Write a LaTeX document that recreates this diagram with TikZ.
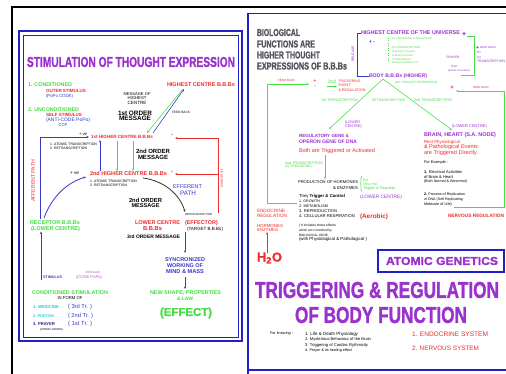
\documentclass[tikz,border=0pt]{standalone}
\usepackage{fontspec}
\setmainfont{Liberation Sans}
\newfontface\heavy[FakeBold=1.6]{Liberation Sans Bold}
\usetikzlibrary{arrows.meta}
\definecolor{pur}{HTML}{9A32CD}
\definecolor{rd}{HTML}{EE2C2C}
\definecolor{gr}{HTML}{44DD44}
\definecolor{bl}{HTML}{3838C8}
\definecolor{dbl}{HTML}{202090}
\definecolor{cy}{HTML}{20D0E0}
\definecolor{mg}{HTML}{C060C0}
\definecolor{fb}{HTML}{2020C8}
\definecolor{dg}{HTML}{58525E}
\newcommand\wf[2]{\resizebox{#1pt}{!}{#2}}
\begin{document}
\begin{tikzpicture}[x=1pt,y=-1pt,
  L/.style={anchor=west,inner sep=0pt,outer sep=0pt},
  R/.style={anchor=east,inner sep=0pt,outer sep=0pt},
  C/.style={anchor=center,inner sep=0pt,outer sep=0pt},
  ar/.style={-{Stealth[length=2.6pt,width=2.2pt]},line width=0.55pt},
  ln/.style={line width=0.55pt}]
\useasboundingbox (0,0) rectangle (506,374);
\fill[white] (0,0) rectangle (506,374);
% frames
\draw[black,line width=1.6pt] (12,374) -- (12,7) -- (506,7);
\draw[fb,line width=1.2pt] (248,13.5) -- (506,13.5);
\draw[fb,line width=1.2pt] (248,370) -- (506,370);
\draw[fb,line width=2.4pt] (248,374) -- (248,13);
\draw[fb,line width=2.2pt] (19,31) rectangle (242,341);
\draw[fb,line width=0.6pt] (23,35) rectangle (238,337);
% ===== left panel =====
\node[C,text=pur] (ttl) at (131,62) {\resizebox{208pt}{10pt}{\heavy STIMULATION OF THOUGHT EXPRESSION}};
\node[L,text=gr] (lc1) at (28,85) {\wf{44}{\bfseries 1. CONDITIONED}};
\node[L,text=rd] (los) at (46,90.5) {\wf{40}{\bfseries OUTER STIMULUS}};
\node[L,text=bl] (lppc) at (46,96) {\wf{27}{(PoPo CODE)}};
\node[L,text=gr] (lc2) at (28,110) {\wf{51}{\bfseries 2. UNCONDITIONED}};
\node[L,text=rd] (lss) at (46,115) {\wf{36}{\bfseries SELF STIMULUS}};
\node[L,text=bl] (lacp) at (46,120) {\wf{44}{(ANTI-CODE PoPo)}};
\node[C,text=bl] (lccp) at (63,125) {\wf{9}{CCP}};
\node[C] (lmo1) at (137,94) {\wf{27}{MESSAGE OF}};
\node[C] (lmo2) at (137,98.5) {\wf{19}{HIGHEST}};
\node[C] (lmo3) at (137,103) {\wf{19}{CENTRE}};
\node[C] (lfo1) at (135,113) {\wf{34}{\bfseries 1st ORDER}};
\node[C] (lfo2) at (135,118.5) {\wf{32}{\bfseries MESSAGE}};
\node[L,text=rd] (lhc) at (167,85) {\wf{68}{\bfseries HIGHEST CENTRE B.B.Bs}};
\node[L] (lfb) at (172,112) {\wf{18}{FEED BACK}};
\node[L,text=rd] (lh1) at (91,137) {\wf{62}{\bfseries 1st HIGHER CENTRE B.B.Bs}};
\node[L] (lve1) at (79,134) {\wf{8}{+ ve}};
\node[L] (lat1) at (50,144) {\wf{47}{1. ATOMIC TRANSCRIPTION}};
\node[L] (lrt1) at (50,148) {\wf{37}{2. RETRANSCRIPTION}};
\node[C] (lso1) at (153,151) {\wf{34}{\bfseries 2nd ORDER}};
\node[C] (lso2) at (153,157.5) {\wf{30}{\bfseries MESSAGE}};
\node[L,text=rd] (lh2) at (90,174) {\wf{77}{\bfseries 2nd HIGHER CENTRE B.B.Bs}};
\node[L] (lve2) at (70,173) {\wf{9}{+ ve}};
\node[L] (lat2) at (90,181) {\wf{47}{1. ATOMIC TRANSCRIPTION}};
\node[L] (lrt2) at (90,185) {\wf{37}{2. RETRANSCRIPTION}};
\node[C,text=bl] (lef1) at (187.5,187) {\wf{29}{EFFERENT}};
\node[C,text=bl] (lef2) at (188,193) {\wf{16}{PATH}};
\node[C] (lto1) at (145.5,200) {\wf{33}{\bfseries 2nd ORDER}};
\node[C] (lto2) at (145.5,206) {\wf{28}{\bfseries MESSAGE}};
\node[L] (lrt3) at (185,215) {\wf{27}{RETRANSCRIPTION}};
\node[C,text=rd] (llc1) at (157.5,223) {\wf{45}{\bfseries LOWER CENTRE}};
\node[C,text=rd] (llc2) at (152.5,229) {\wf{19}{\bfseries B.B.Bs}};
\node[L,text=rd] (leff) at (185,223) {\wf{33}{\bfseries (EFFECTOR)}};
\node[L] (ltgt) at (187,229) {\wf{36}{(TARGET B.B.Bs)}};
\node[C] (l3o) at (153.5,237) {\wf{53}{\bfseries 3rd ORDER MESSAGE}};
\node[C,text=bl] (lsy1) at (185,260) {\wf{40}{\bfseries SYNCRONIZED}};
\node[C,text=bl] (lsy2) at (185,266) {\wf{36}{\bfseries WORKING OF}};
\node[C,text=bl] (lsy3) at (185,272) {\wf{38}{\bfseries MIND \& MASS}};
\node[C,text=gr] (lns1) at (185.5,293) {\wf{71}{\bfseries NEW SHAPE, PROPERTIES}};
\node[C,text=gr] (lns2) at (185,298.5) {\wf{16}{\bfseries \& LAW}};
\node[C,text=gr] (leffect) at (186,313) {\wf{52}{\heavy (EFFECT)}};
\node[C,text=gr] (lre1) at (55,223) {\wf{50}{\bfseries RECEPTOR B.B.Bs}};
\node[C,text=gr] (lre2) at (55.5,229) {\wf{49}{\bfseries (LOWER CENTRE)}};
\node[L,text=bl] (lstim) at (43,277) {\wf{19}{\bfseries STIMULUS}};
\node[C,text=mg] (lmsg1) at (93,272) {\wf{15}{MESSAGE}};
\node[L,text=mg] (lmsg2) at (76,277) {\wf{26}{(CODE PoPo)}};
\node[C,text=gr] (lcs) at (70,293) {\wf{76}{\bfseries CONDITIONED STIMULATION}};
\node[C] (lif) at (70,298.5) {\wf{25}{IN FORM OF}};
\node[L,text=cy] (lm1) at (33,307) {\wf{26}{\bfseries 1. MEDICINE}};
\node[L,text=bl] (lm2) at (68,307) {\wf{24}{( 3rd Tr. )}};
\node[L,text=cy] (lp1) at (33,316) {\wf{21}{\bfseries 2. PHOTON}};
\node[L,text=bl] (lp2) at (68,316) {\wf{25}{( 2nd Tr. )}};
\node[L,text=dbl] (lpr1) at (33,324) {\wf{22}{\bfseries 3. PRAYER}};
\node[L,text=bl] (lpr2) at (68,324) {\wf{24}{( 1st Tr. )}};
\node[L] (lag) at (40,330) {\wf{23}{(ATOMIC GENES)}};
\node[C,rotate=90,text=rd] (laff) at (33,181) {\wf{42}{AFFERENT PATH}};
\node[C,rotate=-90,text=rd] (lfbv) at (222,179) {\wf{18}{FEED BACK}};
\node[C,text=rd] (lpl1) at (172,135.5) {\wf{2.5}{+}};
\node[C,text=rd] (lpl2) at (172,172.5) {\wf{2.5}{+}};
% left connectors
\coordinate (rcpT) at (40,219);
\draw[ar,bl,shorten >=2pt] (rcpT) |- (lh1.west);
\coordinate (stB) at (41,280);
\draw[ar,bl] (stB) -- (stB |- lre2.south);
\coordinate (cbS) at (44,218);
\coordinate (cbE) at (86,177);
\draw[ar,bl,line width=0.8pt] (cbS) .. controls (52,196) and (68,182) .. (cbE);
\coordinate (kbS) at (143,178);
\coordinate (kbE) at (185,212);
\draw[ar,black!80,line width=0.8pt] (kbS) .. controls (165,181) and (180,195) .. (kbE);
\coordinate (hg1) at (182,90); \coordinate (hg2) at (147,133);
\draw[ar,gr] (hg1) -- (hg2);
\coordinate (hb1) at (153,133); \coordinate (hb2) at (184,89);
\draw[ar,bl] (hb1) -- (hb2);
\coordinate (bu1) at (100,171); \coordinate (bu2) at (100,140);
\draw[ar,bl] (bu1) -- (bu2);
\coordinate (gd1) at (117,141); \coordinate (gd2) at (117,171);
\draw[ar,gr] (gd1) -- (gd2);
\coordinate (gd3) at (133,141); \coordinate (gd4) at (133,171);
\draw[ar,gr] (gd3) -- (gd4);
\coordinate (rf1) at (218,213); \coordinate (rf2) at (218,138);
\coordinate (rf3) at (175,138); \coordinate (rf4) at (218,174); \coordinate (rf5) at (175,174);
\draw[ar,rd] (rf1) -- (rf2) -- (rf3);
\draw[ar,rd] (rf4) -- (rf5);
\coordinate (bd1) at (185,232); \coordinate (bd2) at (185,253);
\draw[ar,bl] (bd1) -- (bd2);
\coordinate (bd3) at (185,277); \coordinate (bd4) at (185,289);
\draw[ar,bl] (bd3) -- (bd4);
% ===== right panel =====
\node[L,text=dg] (rb1) at (257,32.5) {\resizebox{43pt}{7pt}{\heavy BIOLOGICAL}};
\node[L,text=dg] (rb2) at (257,44) {\resizebox{58pt}{7pt}{\heavy FUNCTIONS ARE}};
\node[L,text=dg] (rb3) at (257,55) {\resizebox{63pt}{7pt}{\heavy HIGHER THOUGHT}};
\node[L,text=dg] (rb4) at (257,66) {\resizebox{90pt}{7pt}{\heavy EXPRESSIONS OF B.B.Bs}};
\node[L,text=pur] (rhcu) at (361,33) {\wf{99}{\bfseries HIGHEST CENTRE OF THE UNIVERSE}};
\node[L,text=pur] (rbody) at (369,76) {\wf{58}{\bfseries BODY B.B.Bs (HIGHER)}};
\draw[ln,bl] (rhcu.west) -- (357,33) -- (357,76) -- (rbody.west);
\node[C,rotate=90,text=pur] (rrel) at (353,54) {\wf{16}{RELEASE}};
\node[L,text=bl] (rpm1) at (369,42) {\wf{6}{\bfseries + -}};
\draw[gr,dotted,line width=0.5pt] (388,38) -- (388,63);
\node[L,text=gr] (rl1) at (392,39) {\wf{40}{1st TRIGGERING \& REGULATION}};
\node[L,text=gr] (rl2) at (392,48) {\wf{28}{2nd TRANSCRIPTION}};
\node[L,text=gr] (rl3) at (392,52) {\wf{23}{Shaping of Thoughts}};
\node[L,text=gr] (rl4) at (392,55.5) {\wf{21}{of Body Functions}};
\node[L,text=gr] (rl5) at (392,59) {\wf{19}{of Brain Waves}};
\node[L,text=gr] (rl6) at (392,62.5) {\wf{26}{Giving Protection Foil}};
\node[L,text=bl] (rpl2) at (462,34) {\wf{4}{\bfseries +}};
\coordinate (gb1) at (467,36); \coordinate (gb2) at (474,36);
\coordinate (gb3) at (474,75); \coordinate (gb4) at (461,75);
\draw[ln,gr] (gb1) -- (gb2) -- (gb3) -- (gb4);
\node[C,text=pur] (rpray) at (453,57) {\wf{13}{PRAYER}};
\node[C,text=pur] (rtdm) at (454,67) {\wf{6}{TDM}};
\node[C,text=pur] (rbbb) at (459,71) {\wf{22}{(B.B.Bs of the Brain)}};
\node[L,text=bl] (rpl3) at (476,48) {\wf{3}{\bfseries +}};
\node[L,text=pur] (rfb1) at (480,48) {\wf{16}{FEED BACK}};
\node[L,text=pur] (rby) at (477,52.5) {\wf{4}{BY}};
\node[L,text=pur] (r1st) at (477,57) {\wf{4}{1st}};
\node[L,text=pur] (rtr) at (477,61.5) {\wf{28}{TRANSCRIPTION}};
\node[C,text=gr] (r2te) at (416,82) {\wf{42}{2nd THOUGHT EXPRESSION}};
\coordinate (apex) at (383,79);
\coordinate (lgA) at (329,129);
\coordinate (rgA) at (452,130);
\draw[ar,gr] (apex) -- (lgA);
\draw[ar,gr] (apex) -- (rgA);
\node[C,text=gr] (r1t) at (339.5,100) {\wf{37}{1st TRANSCRIPTION}};
\node[C,text=gr] (rrt) at (388.5,100) {\wf{33}{RETRANSCRIPTION}};
\node[C,text=gr] (r2t) at (433,100) {\wf{38}{2nd TRANSCRIPTION}};
\node[C,text=pur] (rlo1) at (352.5,123) {\wf{15}{(LOWER}};
\node[C,text=pur] (rlo2) at (353.5,127) {\wf{17}{CENTRE)}};
\node[L,text=pur] (rrg1) at (299,136) {\wf{50}{\bfseries REGULATORY GENE \&}};
\node[L,text=pur] (rrg2) at (299,142) {\wf{58}{\bfseries OPERON GENE OF DNA}};
\node[L,text=rd] (rboth) at (299,151) {\wf{76}{Both are Triggered or Activated}};
\node[L,text=gr] (r2tr) at (285,163) {\wf{38}{2nd TRANSCRIPTION}};
\node[L,text=gr] (r2trg) at (285,167) {\wf{27}{(2) TRIGGERING}};
\coordinate (va1) at (325,155); \coordinate (va2) at (325,179);
\draw[ar,gr] (va1) -- (va2);
\node[L] (rph1) at (298,182) {\wf{60}{PRODUCTION OF HORMONES}};
\node[R] (rph2) at (358,188) {\wf{25}{\& ENZYMES}};
\node[C,text=gr] (rbr) at (361,184.5) {\resizebox{2pt}{12pt}{\{}};
\node[L,text=gr] (re1) at (363,180) {\wf{5}{Ent}};
\node[L,text=gr] (re2) at (363,184.5) {\wf{15}{Other Hor.}};
\node[L,text=gr] (re3) at (363,189) {\wf{32}{Trigger \& Regulate}};
\node[L,text=pur] (rlc3) at (360,197) {\wf{42}{(LOWER CENTRE)}};
\node[L] (rtt) at (299,196.5) {\wf{46}{They \textbf{Trigger \& Control}}};
\node[L] (rg1) at (299,201.5) {\wf{21}{1. GROWTH}};
\node[L] (rg2) at (299,206.5) {\wf{29}{2. METABOLISM}};
\node[L] (rg3) at (299,211.5) {\wf{38}{3. REPRODUCTION}};
\node[L] (rg4) at (299,216.5) {\wf{56}{4. CELLULAR RESPIRATION}};
\node[L,text=rd] (raer) at (360,217) {\wf{28}{\bfseries (Aerobic)}};
\node[L] (ri1) at (299,226) {\wf{37}{( It includes those effects}};
\node[L] (ri2) at (299,230.5) {\wf{33}{which are controlled by}};
\node[L] (ri3) at (299,235) {\wf{29}{BIOLOGICAL GENE}};
\node[L] (ri4) at (299,239.5) {\wf{68}{(with Physiological \& Pathological )}};
\node[L,text=rd] (ren1) at (257,211) {\wf{28}{ENDOCRINE}};
\node[L,text=rd] (ren2) at (257,216) {\wf{30}{REGULATION}};
\node[L,text=rd] (rho1) at (257,226) {\wf{26}{HORMONES}};
\node[L,text=rd] (rho2) at (257,230.5) {\wf{21}{ENZYMES}};
\node[L,text=rd] (rh2o) at (257,258) {\wf{25}{\heavy H\textsubscript{2}O}};
\coordinate (hx) at (267,0);
\draw[ar,rd] (rh2o.north -| hx) -- (rho2.south -| hx);
\coordinate (fbE) at (297,203); \coordinate (fbB) at (267,203);
\coordinate (fbT) at (267,84); \coordinate (fbA) at (309,84);
\draw[ar,gr] (fbE) -- (fbB) -- (fbT) -- (fbA);
\node[L,text=rd] (rfbk) at (278,80.5) {\wf{17}{FEED BACK}};
\node[C,text=rd,align=center,font=\fontsize{4.5}{5}\selectfont\bfseries] (rpm4) at (315,83.5) {+\\-};
\node[L,text=gr] (r2nd) at (328,82) {\wf{8}{2nd}};
\coordinate (sa1) at (327,86.5); \coordinate (sa2) at (337,86.5);
\draw[ar,gr] (sa1) -- (sa2);
\node[L,text=rd] (rtr1) at (338.5,81) {\wf{22}{TRIGGERING}};
\node[L,text=rd] (rtr2) at (338.5,85.5) {\wf{12}{EVENT}};
\node[L,text=rd] (rtr3) at (338.5,90) {\wf{27}{\& REGULATION}};
\node[L,text=pur] (rlc4) at (452,126) {\wf{35}{(LOWER CENTRE)}};
\node[L,text=pur] (rbh) at (424,135) {\wf{72}{\bfseries BRAIN, HEART (S.A. NODE)}};
\node[L,text=rd] (rrp1) at (424,142.3) {\wf{36}{Rest Physiological}};
\node[L,text=rd] (rrp2) at (424,147.5) {\wf{54}{\& Pathological Events}};
\node[L,text=rd] (rrp3) at (424,152.7) {\wf{53}{are Triggered Directly}};
\node[L] (rfe) at (424,163) {\wf{24}{For Example :}};
\node[L] (rx11) at (424,172) {\wf{38}{\textbf{1.} Electrical Activities}};
\node[L] (rx12) at (424,177) {\wf{29}{of Brain \& Heart}};
\node[L] (rx13) at (424,182) {\wf{43}{(Both Normal \& Abnormal)}};
\node[L] (rx21) at (424,195) {\wf{41}{\textbf{2.} Process of Replication}};
\node[L] (rx22) at (424,200) {\wf{39}{of DNA (Self Replicating}};
\node[L] (rx23) at (424,205) {\wf{28}{Molecule of Life)}};
\coordinate (nr0) at (454,207); \coordinate (nr1) at (504,207);
\coordinate (nr2) at (504,91); \coordinate (nr3) at (456,91);
\draw[ar,gr] (nr0) -- (nr1) -- (nr2) -- (nr3);
\node[C,text=rd] (rpl5) at (452,88) {\wf{3.5}{\bfseries +}};
\node[L,text=rd] (rfb5) at (473,88) {\wf{16}{FEED BACK}};
\node[L,text=rd] (rnr) at (448,216) {\wf{56}{\bfseries NERVOUS REGULATION}};
\draw[fb,line width=2pt] (378,250) rectangle (504,272);
\node[C,text=pur] (ag) at (442,261) {\resizebox{112pt}{8pt}{\heavy ATOMIC GENETICS}};
\node[C,text=pur] (trg) at (377,290) {\resizebox{244pt}{16pt}{\heavy TRIGGERING \& REGULATION}};
\node[C,text=pur] (obf) at (381,315) {\resizebox{172pt}{16pt}{\heavy OF BODY FUNCTION}};
\node[L] (rfk) at (270,334) {\wf{23}{For knowing :}};
\node[L] (rk1) at (305,334) {\wf{53}{1. Life \& Death Physiology}};
\node[L] (rk2) at (305,339.5) {\wf{66}{2. Mysterious Behaviour of the Brain}};
\node[L] (rk3) at (305,345) {\wf{63}{3. Triggering of Cardiac Rythmicity}};
\node[L] (rk4) at (305,350.5) {\wf{47}{4. Prayer \& its healing effect}};
\node[L,text=rd] (res) at (412,334) {\wf{76}{1. ENDOCRINE SYSTEM}};
\node[L,text=rd] (rns) at (412,348) {\wf{67}{2. NERVOUS SYSTEM}};
\end{tikzpicture}
\end{document}
